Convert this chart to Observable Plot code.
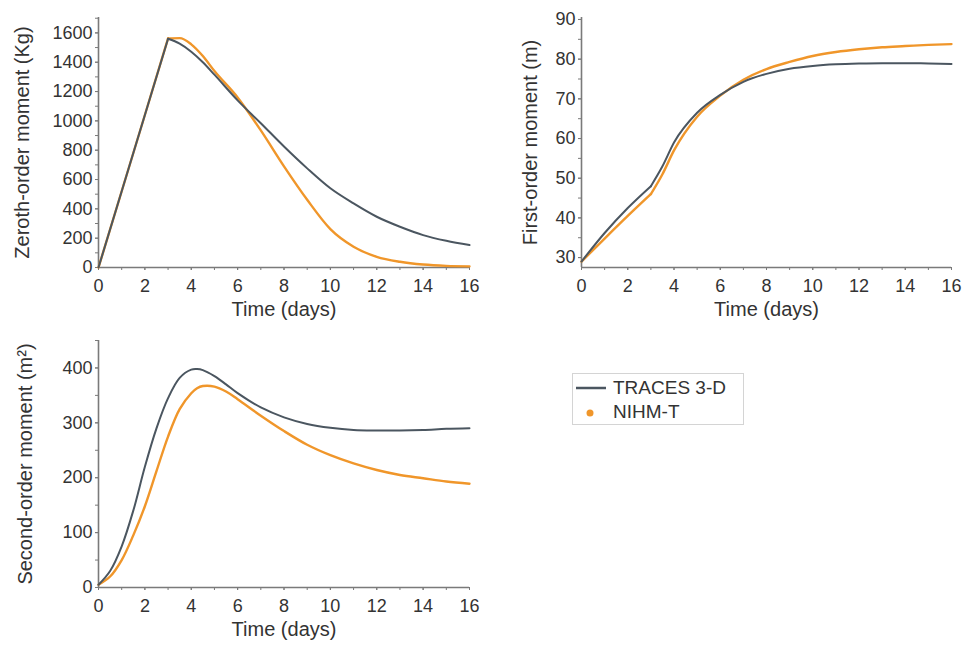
<!DOCTYPE html>
<html>
<head>
<meta charset="utf-8">
<script src="https://cdn.jsdelivr.net/npm/d3@7"></script>
<script src="https://cdn.jsdelivr.net/npm/@observablehq/plot@0.6"></script>
<style>
  html, body { margin: 0; padding: 0; background: #fff; }
  #root { position: relative; width: 965px; height: 650px; font-family: "Liberation Sans", Arial, sans-serif; }
  .panel { position: absolute; }
  #legend { position: absolute; left: 572px; top: 373px; width: 172px; height: 52px; border: 1px solid #d4d4d4; box-sizing: border-box; font-size: 19px; color: #333; }
  .lrow { position: absolute; left: 0; display: flex; align-items: center; }
</style>
</head>
<body>
<div id="root">
  <div id="legend">
    <div class="lrow" style="top:3px"><svg width="40" height="20"><line x1="3" x2="33" y1="10" y2="10" stroke="#4b5660" stroke-width="2.5"/></svg><span>TRACES 3-D</span></div>
    <div class="lrow" style="top:27px"><svg width="40" height="20"><circle cx="17" cy="11" r="3.5" fill="#f0962a"/></svg><span>NIHM-T</span></div>
  </div>
</div>
<script>
// ---- data ----
const seriesNames = ["TRACES 3-D", "NIHM-T"];
const xTicks = [0, 2, 4, 6, 8, 10, 12, 14, 16];

const tZeroth = [0, 1, 2, 3, 3.5, 4, 4.5, 5, 6, 7, 8, 9, 10, 11, 12, 13, 14, 15, 16];
const zerothTraces = [0, 520, 1040, 1560, 1527, 1472, 1400, 1315, 1140, 984, 825, 676, 540, 437, 346, 278, 221, 182, 153];
const zerothNihm   = [0, 520, 1040, 1562, 1564, 1522, 1442, 1340, 1160, 935, 690, 462, 262, 142, 73, 39, 20, 11, 8];
const zerothTicks = [0, 200, 400, 600, 800, 1000, 1200, 1400, 1600];

const tFirst = [0, 1, 2, 3, 3.5, 4, 5, 6, 7, 8, 9, 10, 11, 12, 13, 14, 15, 16];
const firstTraces = [29, 36.2, 42.5, 48, 53, 59, 66.5, 71, 74.3, 76.3, 77.6, 78.3, 78.7, 78.9, 79, 79, 78.9, 78.8];
const firstNihm   = [29, 34.8, 40.5, 46, 51, 57, 65.5, 70.8, 74.8, 77.5, 79.3, 80.8, 81.8, 82.5, 83, 83.3, 83.6, 83.8];
const firstTicks = [30, 40, 50, 60, 70, 80, 90];

const tSecond = [0, 0.5, 1, 1.5, 2, 2.5, 3, 3.5, 4, 4.25, 4.5, 5, 5.5, 6, 7, 8, 9, 10, 11, 12, 13, 14, 15, 16];
const secondTraces = [5, 30, 75, 140, 220, 290, 345, 382, 397, 398, 396, 385, 370, 354, 328, 310, 298, 291, 287, 286, 286, 287, 289, 290];
const secondNihm   = [5, 20, 50, 95, 148, 212, 275, 325, 354, 363, 367, 366, 357, 343, 313, 285, 260, 241, 226, 214, 205, 199, 193, 189];
const secondTicks = [0, 100, 200, 300, 400];

const colors = {"TRACES 3-D": "#4b5660", "NIHM-T": "#f0962a"};

function rows(t, a, b) {
  return t.flatMap((x, i) => [
    {t: x, v: a[i], s: seriesNames[0]},
    {t: x, v: b[i], s: seriesNames[1]}
  ]);
}

function seriesMarks(data, name, cfg, width) {
  const d = data.filter(r => r.s === name);
  const opts = {x: "t", y: "v", stroke: colors[name], strokeWidth: width};
  if (cfg.split == null) return [Plot.line(d, {...opts, curve: cfg.curve})];
  return [
    Plot.line(d.filter(r => r.t <= cfg.split), {...opts, curve: cfg.riseCurve}),
    Plot.line(d.filter(r => r.t >= cfg.split), {...opts, curve: cfg.curve})
  ];
}

function panel(cfg) {
  const data = rows(cfg.t, cfg.a, cfg.b);
  const axisColor = "#7a7a7a";
  const p = Plot.plot({
    width: cfg.width, height: cfg.height,
    marginLeft: cfg.ml, marginRight: cfg.mr, marginTop: cfg.mt, marginBottom: cfg.mb,
    x: {domain: [0, 16]},
    y: {domain: cfg.yDomain},
    style: {fontFamily: "'Liberation Sans', Arial, sans-serif", fontSize: "18px", color: "#333", background: "transparent", overflow: "visible"},
    marks: [
      Plot.axisX(d3.range(0, 17, 1), {tickSize: 3, text: null, stroke: axisColor, label: null}),
      Plot.axisX(xTicks, {tickSize: 3, tickPadding: 9, stroke: axisColor, fill: "#333", fontSize: 18, label: null, tickFormat: d3.format("d")}),
      Plot.axisY(cfg.yMinor, {tickSize: 3, text: null, stroke: axisColor, label: null}),
      Plot.axisY(cfg.yTicks, {tickSize: 3, tickPadding: 3, stroke: axisColor, fill: "#333", fontSize: 18, label: null, tickFormat: d3.format("d")}),
      Plot.ruleY([cfg.yDomain[0]], {stroke: axisColor, strokeWidth: 1.6}),
      Plot.ruleX([0], {stroke: axisColor, strokeWidth: 1.6}),
      ...seriesMarks(data, seriesNames[1], cfg, 2.4),
      ...seriesMarks(data, seriesNames[0], cfg, 2),
      Plot.text(["Time (days)"], {frameAnchor: "bottom", dy: 48, fontSize: 20, fill: "#333"}),
      Plot.text([cfg.ylabel], {frameAnchor: "left", textAnchor: "middle", dx: cfg.ylabelDx, rotate: -90, fontSize: 20, fill: "#333"})
    ]
  });
  p.classList.add("panel");
  p.style.left = cfg.left + "px";
  p.style.top = cfg.top + "px";
  document.getElementById("root").appendChild(p);
}

panel({t: tZeroth, a: zerothTraces, b: zerothNihm, yDomain: [0, 1705], yTicks: zerothTicks, yMinor: d3.range(0, 1701, 100),
  split: 3, riseCurve: "linear", curve: "monotone-x",
  ylabel: "Zeroth-order moment (Kg)", left: 0, top: 0, width: 490, height: 320, ml: 98, mr: 21, mt: 17, mb: 53, ylabelDx: -76});
panel({t: tFirst, a: firstTraces, b: firstNihm, yDomain: [27.5, 90.5], yTicks: firstTicks, yMinor: d3.range(30, 91, 5),
  split: 3, riseCurve: "monotone-x", curve: "monotone-x",
  ylabel: "First-order moment (m)", left: 490, top: 0, width: 475, height: 320, ml: 91, mr: 14, mt: 17, mb: 53, ylabelDx: -51});
panel({t: tSecond, a: secondTraces, b: secondNihm, yDomain: [0, 450], yTicks: secondTicks, yMinor: d3.range(0, 451, 50),
  curve: "catmull-rom",
  ylabel: "Second-order moment (m²)", left: 0, top: 320, width: 490, height: 330, ml: 98, mr: 21, mt: 20, mb: 63, ylabelDx: -73});
</script>
</body>
</html>
